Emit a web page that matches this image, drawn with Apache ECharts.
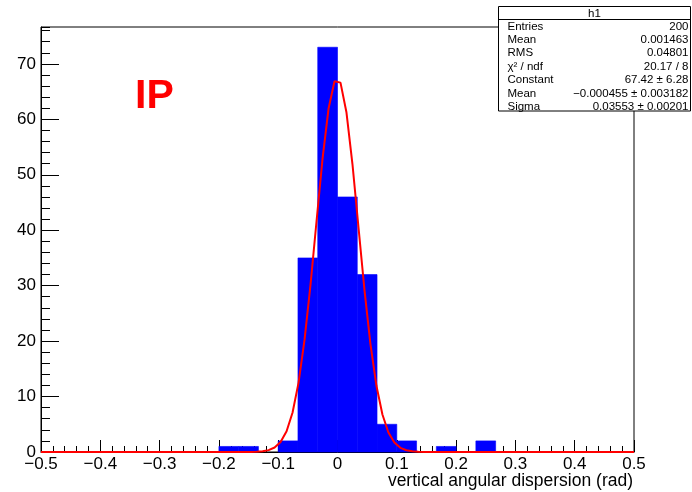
<!DOCTYPE html>
<html>
<head>
<meta charset="utf-8">
<script src="https://cdn.jsdelivr.net/npm/echarts@6/dist/echarts.min.js"></script>
<style>html,body{margin:0;padding:0;background:#fff;}#c{width:692px;height:492px;}</style>
</head>
<body>
<div id="c"></div>
<script>
// Histogram definition (30 bins from -0.5 to 0.5)
var histMin = -0.5;
var histMax = 0.5;
var binCounts = [0,0,0,0,0,0,0,0,0,1, 1,0,2,35,73,46,32,5,2,0, 1,0,2,0,0,0,0,0,0,0];
// Gaussian fit parameters (from stats box)
var fitParams = [67.42, -0.000455, 0.03553]; // constant, mean, sigma
var fitPoints = 100;
// Axis tick labels
var yTicks = [0,10,20,30,40,50,60,70];
var xTicks = [-0.5,-0.4,-0.3,-0.2,-0.1,0,0.1,0.2,0.3,0.4,0.5];
var yMax = 76.65;
// Stats box
var statsTitle = 'h1';
var statsNames = ['Entries','Mean','RMS','\u03C7\u00B2 / ndf','Constant','Mean','Sigma'];
var statsValues = ['200','0.001463','0.04801','20.17 / 8','67.42 \u00B1 6.28','\u22120.000455 \u00B1 0.003182','0.03553 \u00B1 0.00201'];
var xTitle = 'vertical angular dispersion (rad)';
var labelText = 'IP';

var nb = binCounts.length;
var bw = (histMax - histMin) / nb;
var histData = binCounts.map(function (c, i) { return [histMin + i * bw, histMin + (i + 1) * bw, c]; });
var fitData = [];
for (var i = 0; i < fitPoints; i++) {
  var x = histMin + i * (histMax - histMin) / (fitPoints - 1);
  var z = (x - fitParams[1]) / fitParams[2];
  fitData.push([x, fitParams[0] * Math.exp(-0.5 * z * z)]);
}

function fmt(v) {
  var s = (Math.round(v * 1000) / 1000).toString();
  return s.replace('-', '\u2212');
}

var FONT = 'Liberation Sans';
var chart = echarts.init(document.getElementById('c'), null, {renderer: 'canvas'});

var statsGraphics = [];
var bx = 498.5, by = 6.5, bwid = 192, bh = 104.5, hdr = 13;
statsGraphics.push({type: 'rect', shape: {x: bx, y: by, width: bwid, height: bh}, style: {fill: '#fff', stroke: '#000', lineWidth: 1}, z: 100});
statsGraphics.push({type: 'line', shape: {x1: bx, y1: by + hdr, x2: bx + bwid, y2: by + hdr}, style: {stroke: '#000', lineWidth: 1}, z: 101});
statsGraphics.push({type: 'text', x: bx + bwid / 2, y: by + hdr / 2 + 0.5, style: {text: statsTitle, font: '11.5px ' + FONT, fill: '#000', textAlign: 'center', textVerticalAlign: 'middle'}, z: 101});
for (var k = 0; k < statsNames.length; k++) {
  var yy = by + hdr + 7 + k * 13.4;
  statsGraphics.push({type: 'text', x: bx + 9, y: yy, style: {text: statsNames[k], font: '11.5px ' + FONT, fill: '#000', textAlign: 'left', textVerticalAlign: 'middle'}, z: 101});
  statsGraphics.push({type: 'text', x: bx + bwid - 2, y: yy, style: {text: statsValues[k], font: '11.5px ' + FONT, fill: '#000', textAlign: 'right', textVerticalAlign: 'middle'}, z: 101});
}

var option = {
  animation: false,
  backgroundColor: '#fff',
  grid: {left: 41, right: 58, top: 27, bottom: 40, show: true, borderColor: '#000', borderWidth: 1, backgroundColor: 'transparent'},
  xAxis: {
    type: 'value', min: histMin, max: histMax, interval: 0.1,
    axisLine: {show: true, onZero: false, lineStyle: {color: '#000', width: 1}},
    axisTick: {show: true, inside: true, length: 12, lineStyle: {color: '#000'}},
    minorTick: {show: true, splitNumber: 5, length: 6, lineStyle: {color: '#000'}},
    splitLine: {show: false},
    axisLabel: {fontFamily: FONT, fontSize: 17, color: '#000', margin: 4, formatter: fmt}
  },
  yAxis: [{
    type: 'value', min: 0, max: yMax, interval: 10,
    axisLine: {show: true, onZero: false, lineStyle: {color: '#000', width: 1}},
    axisTick: {show: true, inside: true, length: 18, lineStyle: {color: '#000'}},
    splitLine: {show: false},
    axisLabel: {fontFamily: FONT, fontSize: 17, color: '#000', margin: 5, showMaxLabel: false,
      formatter: function (v) { return yTicks.indexOf(Math.round(v)) >= 0 && Math.abs(v - Math.round(v)) < 1e-6 ? String(Math.round(v)) : ''; }}
  }, {
    type: 'value', min: 0, max: yMax, interval: 2, position: 'left',
    axisLine: {show: false, onZero: false},
    axisTick: {show: true, inside: true, length: 9, lineStyle: {color: '#000'}},
    splitLine: {show: false},
    axisLabel: {show: false}
  }],
  series: [{
    type: 'custom',
    data: histData,
    clip: false,
    renderItem: function (params, api) {
      var p0 = api.coord([api.value(0), api.value(2)]);
      var p1 = api.coord([api.value(1), 0]);
      if (api.value(2) <= 0) return null;
      return {type: 'rect', shape: {x: p0[0], y: p0[1], width: p1[0] - p0[0], height: p1[1] - p0[1]},
        style: {fill: '#0000ff', stroke: '#0000ff', lineWidth: 0.6}};
    },
    z: 2
  }, {
    type: 'line',
    data: fitData,
    showSymbol: false,
    symbol: 'none',
    clip: false,
    lineStyle: {color: '#ff0000', width: 2},
    z: 3
  }],
  graphic: [{
    type: 'text', left: 135, top: 76,
    style: {text: labelText, font: 'bold 41px ' + FONT, fill: '#ff0000'}, z: 50
  }, {
    type: 'text', right: 59, top: 472,
    style: {text: xTitle, font: '17.5px ' + FONT, fill: '#000'}, z: 50
  }].concat(statsGraphics)
};
chart.setOption(option);
</script>
</body>
</html>
